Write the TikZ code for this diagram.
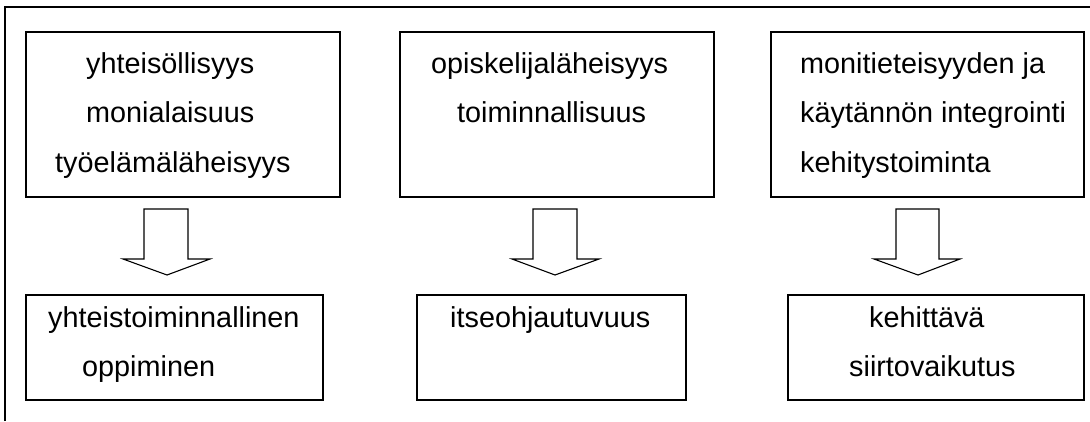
\documentclass[tikz,border=0pt]{standalone}
\usepackage{fontspec}
\setmainfont{Liberation Sans}
\begin{document}
\begin{tikzpicture}[x=1pt,y=-1pt,
  box/.style={draw,line width=1.1pt,inner sep=0pt,outer sep=0pt,anchor=north west},
  lbl/.style={anchor=base west,inner sep=0pt,font=\fontsize{28.8}{34}\selectfont},
  blk/.style={draw,line width=1.1pt,line join=miter}]
\useasboundingbox (0,0) rectangle (1090,421);
\coordinate (fb) at (5,421);
\coordinate (fc) at (5,7);
\coordinate (fr) at (1090,7);
\draw[line width=2pt] (fb) -- (fc) -- (fr);
% top boxes
\node[box,minimum width=314pt,minimum height=165pt] (b1) at (26,32) {};
\node[box,minimum width=314pt,minimum height=165pt] (b2) at (400,32) {};
\node[box,minimum width=313pt,minimum height=165pt] (b3) at (771,32) {};
% bottom boxes
\node[box,minimum width=297pt,minimum height=105pt] (c1) at (26,295) {};
\node[box,minimum width=269pt,minimum height=105pt] (c2) at (417,295) {};
\node[box,minimum width=296pt,minimum height=105pt] (c3) at (788,295) {};
% texts
\node[lbl] (t11) at (86,73) {yhteisöllisyys};
\node[lbl] (t12) at (86,122) {monialaisuus};
\node[lbl] (t13) at (55,172) {työelämäläheisyys};
\node[lbl] (t21) at (431,73) {opiskelijaläheisyys};
\node[lbl] (t22) at (457,122) {toiminnallisuus};
\node[lbl] (t31) at (800,73) {monitieteisyyden ja};
\node[lbl] (t32) at (800,122) {käytännön integrointi};
\node[lbl] (t33) at (800,172) {kehitystoiminta};
\node[lbl] (u11) at (48,327) {yhteistoiminnallinen};
\node[lbl] (u12) at (82,376) {oppiminen};
\node[lbl] (u21) at (450,327) {itseohjautuvuus};
\node[lbl] (u31) at (869,327) {kehittävä};
\node[lbl] (u32) at (849,376) {siirtovaikutus};
% block arrows
\draw[blk] (144,209) -- (188,209) -- (188,259) -- (210,259) -- (167,275) -- (123,259) -- (144,259) -- cycle;
\draw[blk] (533,209) -- (577,209) -- (577,259) -- (599,259) -- (555,275) -- (512,259) -- (533,259) -- cycle;
\draw[blk] (896,209) -- (939,209) -- (939,259) -- (960,259) -- (918,275) -- (874,259) -- (896,259) -- cycle;
\end{tikzpicture}
\end{document}
